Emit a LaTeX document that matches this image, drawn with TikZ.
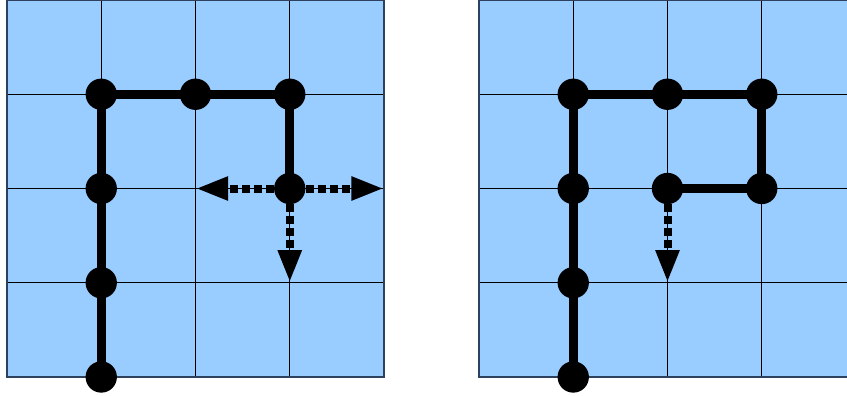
\documentclass[tikz,border=0pt]{standalone}
\usetikzlibrary{arrows.meta}
\definecolor{cellblue}{RGB}{153,204,255}
\definecolor{gridedge}{RGB}{45,65,95}
\tikzset{
  vertex/.style={circle,fill=black,inner sep=0pt,minimum size=23.5pt},
  pathline/.style={line width=7pt,black},
  probe/.style={line width=6pt,dash pattern=on 6pt off 3pt,
    -{Triangle[length=24.5pt,width=16.5pt]}},
  gridline/.style={black,line width=0.75pt},
  gridborder/.style={gridedge,line width=1pt},
}
\begin{document}
\begin{tikzpicture}[x=0.75pt,y=-0.75pt]
\useasboundingbox (0,0) rectangle (847,396);
\clip (0,0) rectangle (847,396);

% two 4x4 boards of light blue cells
\foreach \ox in {7,479} {
  \fill[cellblue] (\ox,0) rectangle ++(377,377);
  \foreach \k in {1,2,3} {
    \draw[gridline] (\ox+\k*94.25,0) -- ++(0,377);
    \draw[gridline] (\ox,\k*94.25) -- ++(377,0);
  }
  \draw[gridborder] (\ox,0) rectangle ++(377,377);
}

% left board: path so far and the three candidate moves
\node[vertex] (a1) at (101.25,377) {};
\node[vertex] (a2) at (101.25,282.75) {};
\node[vertex] (a3) at (101.25,188.5) {};
\node[vertex] (a4) at (101.25,94.25) {};
\node[vertex] (a5) at (195.5,94.25) {};
\node[vertex] (a6) at (289.75,94.25) {};
\node[vertex] (a7) at (289.75,188.5) {};
\draw[pathline] (a1.center) -- (a2.center) -- (a3.center) -- (a4.center)
  -- (a5.center) -- (a6.center) -- (a7.center);
\coordinate (aw) at (195.5,188.5);
\coordinate (ae) at (384,188.5);
\coordinate (as) at (289.75,282.75);
\draw[probe] (a7) -- (aw);
\draw[probe] (a7) -- (ae);
\draw[probe] (a7) -- (as);

% right board: longer path and its single remaining move
\node[vertex] (b1) at (573.25,377) {};
\node[vertex] (b2) at (573.25,282.75) {};
\node[vertex] (b3) at (573.25,188.5) {};
\node[vertex] (b4) at (573.25,94.25) {};
\node[vertex] (b5) at (667.5,94.25) {};
\node[vertex] (b6) at (761.75,94.25) {};
\node[vertex] (b7) at (761.75,188.5) {};
\node[vertex] (b8) at (667.5,188.5) {};
\draw[pathline] (b1.center) -- (b2.center) -- (b3.center) -- (b4.center)
  -- (b5.center) -- (b6.center) -- (b7.center) -- (b8.center);
\coordinate (bs) at (667.5,282.75);
\draw[probe] (b8) -- (bs);
\end{tikzpicture}
\end{document}
